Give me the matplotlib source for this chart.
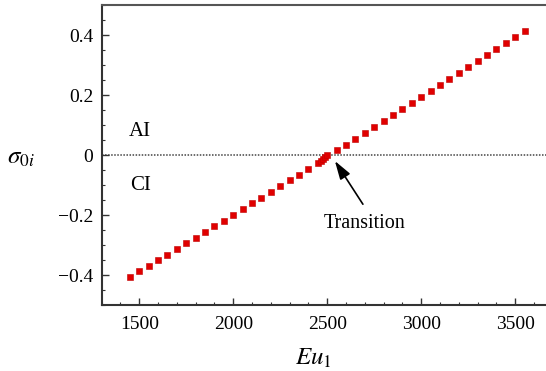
import matplotlib
matplotlib.use("Agg")
import matplotlib.pyplot as plt
import matplotlib.ticker as mticker

# Eu_1 values and growth rate sigma_0i
eu1 = [1450, 1500, 1550, 1600, 1650, 1700, 1750, 1800, 1850, 1900,
       1950, 2000, 2050, 2100, 2150, 2200, 2250, 2300, 2350, 2400,
       2450, 2465, 2480, 2490, 2500, 2550, 2600, 2650, 2700, 2750,
       2800, 2850, 2900, 2950, 3000, 3050, 3100, 3150, 3200, 3250,
       3300, 3350, 3400, 3450, 3500, 3550]
sigma0i = [-0.405, -0.388, -0.369, -0.350, -0.332, -0.313, -0.294, -0.276, -0.257, -0.238,
           -0.219, -0.200, -0.180, -0.160, -0.142, -0.123, -0.103, -0.084, -0.065, -0.045,
           -0.025, -0.019, -0.012, -0.006, 0.000, 0.016, 0.034, 0.054, 0.074, 0.094,
           0.114, 0.134, 0.154, 0.174, 0.193, 0.213, 0.233, 0.253, 0.272, 0.292,
           0.312, 0.332, 0.352, 0.372, 0.392, 0.412]

xticks = [1500, 2000, 2500, 3000, 3500]
yticks = [-0.4, -0.2, 0, 0.2, 0.4]
ytick_labels = ["\u22120.4", "\u22120.2", "0", "0.2", "0.4"]

plt.rcParams["font.family"] = ["Liberation Serif", "DejaVu Serif"]
plt.rcParams["mathtext.fontset"] = "stix"

fig = plt.figure(figsize=(5.46, 3.71), dpi=100)
ax = fig.add_axes([101.7 / 546, 66 / 371, 451 / 546, 300 / 371])

ax.axhline(0, color="#444444", linestyle=(0, (1, 1)), linewidth=1.1, zorder=1)
ax.plot(eu1, sigma0i, linestyle="none", marker="s", markersize=3.8,
        markerfacecolor="#e00000", markeredgecolor="#c00000", markeredgewidth=0.4, zorder=3)

ax.set_xlim(1300, 3700)
ax.set_ylim(-0.5, 0.5)
ax.set_xticks(xticks)
ax.set_yticks(yticks)
ax.set_yticklabels(ytick_labels)
ax.xaxis.set_minor_locator(mticker.MultipleLocator(100))
ax.yaxis.set_minor_locator(mticker.MultipleLocator(0.05))

ax.tick_params(which="both", direction="in", top=False, right=False,
               labelsize=14, color="#333333")
ax.tick_params(which="major", length=5, width=1.0)
ax.tick_params(which="minor", length=2.5, width=0.8)
ax.tick_params(axis="x", pad=8)
ax.tick_params(axis="y", pad=6)

for side in ["left", "bottom"]:
    ax.spines[side].set_linewidth(1.5)
    ax.spines[side].set_color("#333333")
ax.spines["top"].set_linewidth(1.5)
ax.spines["top"].set_color("#555555")
ax.spines["right"].set_visible(False)

ax.set_xlabel(r"$Eu_1$", fontsize=18, labelpad=4)
ax.set_ylabel(r"$\sigma_{0i}$", fontsize=18, rotation=0, labelpad=0)
ax.yaxis.label.set_va("center")
ax.yaxis.set_label_coords(-0.18, 0.49)
ax.xaxis.set_label_coords(0.47, -0.14)

ax.text(1505, 0.08, "AI", fontsize=15, va="center", ha="center")
ax.text(1505, -0.102, "CI", fontsize=15, va="center", ha="center")

ax.text(2700, -0.195, "Transition", fontsize=14.5, ha="center", va="top")
ax.annotate("", xy=(2541, -0.02), xytext=(2690, -0.164),
            arrowprops=dict(arrowstyle="-|>,head_length=0.8,head_width=0.25",
                            color="black", lw=1.2,
                            mutation_scale=14, shrinkA=0, shrinkB=0))

fig.savefig("out.png", dpi=100)
